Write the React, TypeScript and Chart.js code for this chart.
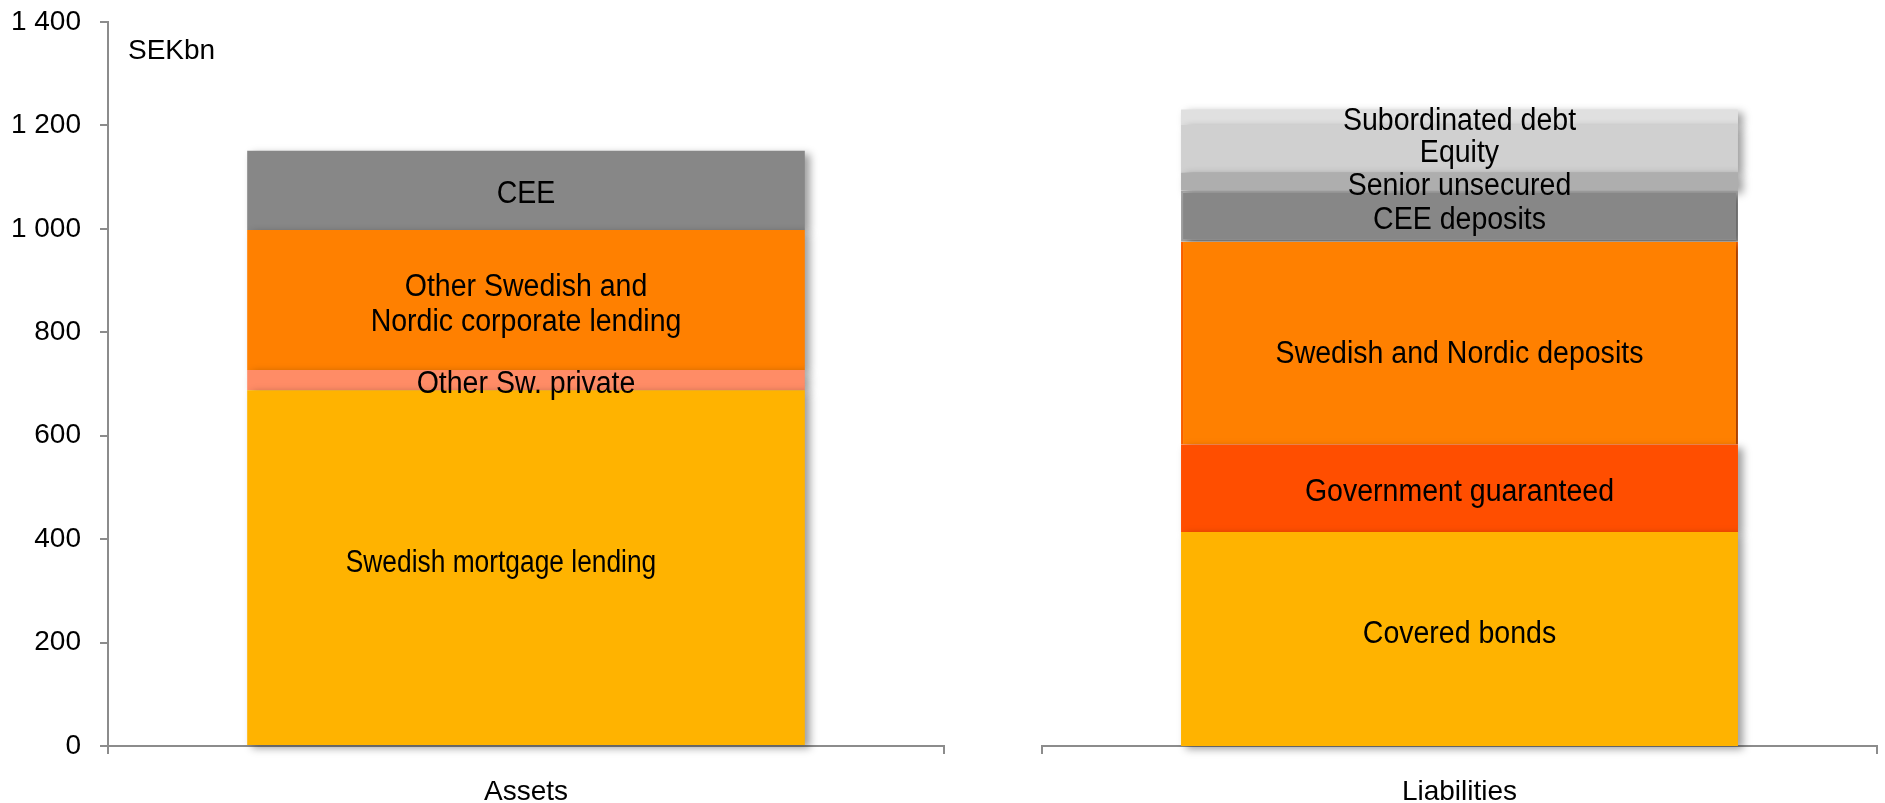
import React, { useEffect, useRef } from 'react';
import { Chart, registerables } from 'chart.js';

Chart.register(...registerables);

// ---- data ----
const assetCategories = ['Assets'];
const assetSegments = ['Swedish mortgage lending', 'Other Sw. private', 'Other Swedish and\nNordic corporate lending', 'CEE'];
const assetValues = [688, 39, 271, 153];
const assetColors = ['#FFB300', '#FF8C66', '#FF8000', '#878787'];

const liabilityCategories = ['Liabilities'];
const liabilitySegments = ['Covered bonds', 'Government guaranteed', 'Swedish and Nordic deposits', 'CEE deposits', 'Senior unsecured', 'Equity', 'Subordinated debt'];
const liabilityValues = [414, 169, 392, 99, 35, 92, 30];
const liabilityColors = ['#FFB300', '#FF4E00', '#FF8000', '#878787', '#AEAEAE', '#D0D0D0', '#E0E0E0'];

const yTickValues = [0, 200, 400, 600, 800, 1000, 1200, 1400];
const yTickLabels = ['0', '200', '400', '600', '800', '1 000', '1 200', '1 400'];
const unitLabel = 'SEKbn';

// ---- styling ----
const FONT = "'Liberation Sans', Arial, sans-serif";
const AXIS_COLOR = '#8c8c8c';
const LABEL_SIZE = 31;
const LABEL_SCALE_X = 0.92;
// small nudges of in-bar label text (pixels), like hand-placed text boxes
const labelNudgeY: Record<string, number> = {
  'Swedish mortgage lending': -9,
  'Covered bonds': -9,
  'Swedish and Nordic deposits': 7,
};
const labelNudgeX: Record<string, number> = {
  'Swedish mortgage lending': -25,
};
const labelScaleOverride: Record<string, number> = {
  'Swedish mortgage lending': 0.85,
};

const shadowPlugin = {
  id: 'barShadow',
  beforeDatasetsDraw(chart: any) {
    const ctx = chart.ctx;
    ctx.save();
    ctx.shadowColor = 'rgba(0,0,0,0.38)';
    ctx.shadowBlur = 8;
    ctx.shadowOffsetX = 5;
    ctx.shadowOffsetY = 3;
  },
  afterDatasetsDraw(chart: any) {
    chart.ctx.restore();
  },
};

const segmentLabelPlugin = {
  id: 'segmentLabels',
  afterDatasetsDraw(chart: any) {
    const ctx = chart.ctx;
    const size = LABEL_SIZE;
    ctx.save();
    ctx.font = `${size}px ${FONT}`;
    ctx.fillStyle = '#000';
    ctx.textAlign = 'center';
    ctx.textBaseline = 'alphabetic';
    chart.data.datasets.forEach((ds: any, i: number) => {
      const meta = chart.getDatasetMeta(i);
      const name = String(ds.label);
      const nudge = (labelNudgeY[name] || 0) + 2;
      const dx = labelNudgeX[name] || 0;
      const sx = labelScaleOverride[name] || LABEL_SCALE_X;
      meta.data.forEach((el: any) => {
        if (!el) return;
        const cx = el.x + dx;
        const cy = (el.y + el.base) / 2 + nudge;
        const lines = name.split('\n');
        const lh = 35;
        const startY = cy - ((lines.length - 1) * lh) / 2 + (size * 0.716) / 2;
        lines.forEach((ln: string, k: number) => {
          ctx.save();
          ctx.translate(cx, startY + k * lh);
          ctx.scale(sx, 1);
          ctx.fillText(ln, 0, 0);
          ctx.restore();
        });
      });
    });
    ctx.restore();
  },
};

const unitPlugin = {
  id: 'unitLabel',
  afterDraw(chart: any) {
    const opt = chart.options.plugins.unitLabel;
    if (!opt || !opt.text) return;
    const ctx = chart.ctx;
    ctx.save();
    ctx.font = `28px ${FONT}`;
    ctx.fillStyle = '#000';
    ctx.textAlign = 'left';
    ctx.textBaseline = 'alphabetic';
    ctx.fillText(opt.text, chart.chartArea.left + 20, chart.chartArea.top + 37);
    ctx.restore();
  },
};

function makeConfig(categories: string[], names: string[], values: number[], colors: string[], showY: boolean, unit: string): any {
  const datasets = names.map((n, i) => {
    const ds: any = {
      label: n,
      data: [values[i]],
      backgroundColor: colors[i],
      borderWidth: 0,
      borderSkipped: false,
      stack: 's',
      barPercentage: 0.667,
      categoryPercentage: 1,
      clip: false,
    };
    if (n === 'CEE deposits') {
      ds.borderWidth = 2;
      ds.borderColor = '#a2a2a2';
    }
    if (n === 'Swedish and Nordic deposits') {
      ds.borderWidth = { left: 2, right: 2, top: 0, bottom: 0 };
      ds.borderColor = '#FF6200';
    }
    return ds;
  });
  return {
    type: 'bar',
    data: { labels: categories, datasets },
    plugins: [shadowPlugin, segmentLabelPlugin, unitPlugin],
    options: {
      responsive: false,
      maintainAspectRatio: false,
      animation: false,
      layout: { padding: { left: 0, right: 8, top: 22, bottom: 0 } },
      plugins: {
        legend: { display: false },
        tooltip: { enabled: false },
        unitLabel: { text: unit },
      },
      scales: {
        x: {
          stacked: true,
          offset: true,
          grid: {
            display: true,
            drawOnChartArea: false,
            drawTicks: true,
            tickLength: 8,
            color: AXIS_COLOR,
            lineWidth: 2,
            offset: true,
          },
          border: { display: true, color: AXIS_COLOR, width: 2 },
          ticks: { color: '#000', font: { size: 28, family: FONT }, padding: 21 },
          afterFit: (s: any) => {
            s.height = 57;
            s.paddingLeft = 0;
            s.paddingRight = 0;
          },
        },
        y: {
          display: showY,
          stacked: true,
          min: 0,
          max: 1400,
          afterBuildTicks: (s: any) => { s.ticks = yTickValues.map((v) => ({ value: v })); },
          afterFit: (s: any) => {
            s.width = 108;
            s.paddingTop = 0;
            s.paddingBottom = 0;
          },
          grid: {
            display: true,
            drawOnChartArea: false,
            drawTicks: true,
            tickLength: 8,
            color: AXIS_COLOR,
            lineWidth: 2,
          },
          border: { display: true, color: AXIS_COLOR, width: 2 },
          ticks: {
            color: '#000',
            font: { size: 28, family: FONT },
            padding: 19,
            callback: (v: any) => {
              const idx = yTickValues.indexOf(Number(v));
              return idx >= 0 ? yTickLabels[idx] : '';
            },
          },
        },
      },
    },
  };
}

export default function App() {
  const leftRef = useRef<HTMLCanvasElement | null>(null);
  const rightRef = useRef<HTMLCanvasElement | null>(null);

  useEffect(() => {
    const c1 = new Chart(leftRef.current as HTMLCanvasElement, makeConfig(assetCategories, assetSegments, assetValues, assetColors, true, unitLabel));
    const c2 = new Chart(rightRef.current as HTMLCanvasElement, makeConfig(liabilityCategories, liabilitySegments, liabilityValues, liabilityColors, false, ''));
    return () => {
      c1.destroy();
      c2.destroy();
    };
  }, []);

  return (
    <div style={{ position: 'fixed', left: 0, top: 0, width: 1885, height: 803, background: '#fff', overflow: 'hidden' }}>
      <canvas ref={leftRef} width={952} height={803} style={{ position: 'absolute', left: 0, top: 0, width: 952, height: 803 }} />
      <canvas ref={rightRef} width={951} height={803} style={{ position: 'absolute', left: 934, top: 0, width: 951, height: 803 }} />
    </div>
  );
}
